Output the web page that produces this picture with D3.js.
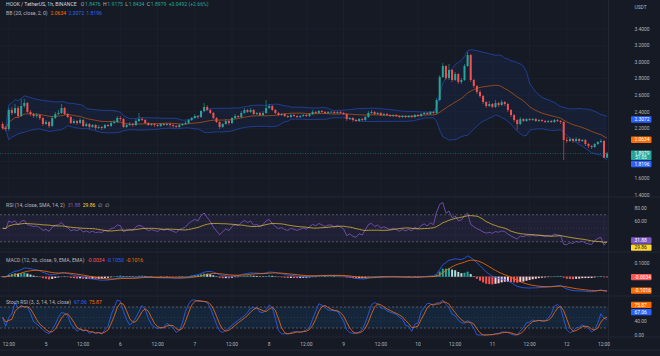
<!DOCTYPE html>
<html><head><meta charset="utf-8">
<script src="https://cdn.jsdelivr.net/npm/d3@7"></script>
<style>html,body{margin:0;padding:0;background:#161a25;overflow:hidden}text{font-family:Roboto,"Liberation Sans",sans-serif}</style>
</head><body><svg id="c" width="660" height="356"></svg>
<script>
// ---------- DATA (1h candles HOOK/USDT) ----------
const firstOpen = 2.253;
const startHour = -14; // first candle, hours relative to day 5 00:00
const closes = [2.205,2.193,2.422,2.386,2.446,2.349,2.470,2.506,2.398,2.373,
2.349,2.361,2.325,2.253,2.277,2.229,2.325,2.373,2.386,2.446,
2.373,2.337,2.265,2.289,2.265,2.301,2.229,2.253,2.217,2.241,
2.205,2.217,2.205,2.241,2.229,2.265,2.277,2.325,2.313,2.217,
2.241,2.253,2.241,2.289,2.313,2.301,2.265,2.241,2.253,2.241,
2.229,2.253,2.241,2.253,2.241,2.229,2.217,2.241,2.253,2.265,
2.301,2.325,2.349,2.337,2.410,2.458,2.422,2.386,2.325,2.277,
2.217,2.253,2.289,2.265,2.325,2.349,2.337,2.386,2.422,2.398,
2.422,2.373,2.386,2.361,2.386,2.446,2.470,2.422,2.386,2.361,
2.373,2.349,2.337,2.361,2.349,2.337,2.349,2.361,2.349,2.373,
2.398,2.386,2.410,2.398,2.386,2.398,2.399,2.386,2.398,2.386,
2.373,2.313,2.325,2.301,2.289,2.313,2.301,2.337,2.386,2.398,
2.373,2.386,2.361,2.373,2.361,2.349,2.361,2.349,2.337,2.349,
2.337,2.349,2.337,2.361,2.349,2.373,2.386,2.373,2.398,2.386,
2.542,2.819,2.952,2.807,2.904,2.783,2.855,2.759,2.783,2.952,
3.084,2.783,2.711,2.639,2.590,2.518,2.470,2.494,2.458,2.506,
2.482,2.518,2.494,2.422,2.361,2.301,2.253,2.313,2.289,2.313,
2.301,2.313,2.289,2.301,2.289,2.277,2.289,2.277,2.301,2.289,
2.277,2.060,2.048,2.072,2.048,2.072,2.048,2.060,2.012,1.988,
1.976,2.012,2.036,2.048,1.8476,1.8979];
const highs = [2.277,2.229,2.446,2.458,2.494,2.470,2.554,2.554,2.518,2.422,
2.386,2.386,2.373,2.337,2.301,2.289,2.349,2.398,2.422,2.494,
2.458,2.386,2.349,2.313,2.301,2.325,2.313,2.277,2.265,2.253,
2.253,2.241,2.229,2.253,2.253,2.289,2.301,2.349,2.349,2.325,
2.253,2.277,2.265,2.313,2.386,2.337,2.313,2.277,2.265,2.265,
2.253,2.265,2.265,2.265,2.265,2.253,2.241,2.253,2.265,2.289,
2.313,2.337,2.373,2.361,2.422,2.506,2.482,2.434,2.398,2.337,
2.289,2.265,2.313,2.301,2.337,2.373,2.361,2.410,2.446,2.434,
2.446,2.434,2.398,2.398,2.410,2.542,2.494,2.482,2.434,2.398,
2.386,2.386,2.361,2.373,2.373,2.361,2.361,2.373,2.373,2.386,
2.422,2.410,2.422,2.422,2.410,2.410,2.410,2.410,2.410,2.410,
2.398,2.386,2.337,2.337,2.313,2.325,2.325,2.349,2.410,2.422,
2.410,2.398,2.398,2.386,2.386,2.373,2.373,2.373,2.361,2.361,
2.361,2.361,2.361,2.373,2.373,2.386,2.398,2.398,2.410,2.410,
2.566,2.843,2.988,2.964,2.976,2.916,2.880,2.867,2.807,2.976,
3.120,3.096,2.795,2.723,2.663,2.602,2.530,2.530,2.506,2.542,
2.518,2.542,2.530,2.506,2.434,2.373,2.313,2.337,2.325,2.325,
2.325,2.325,2.325,2.313,2.313,2.301,2.301,2.301,2.313,2.313,
2.301,2.289,2.096,2.096,2.084,2.096,2.084,2.072,2.072,2.024,
2.000,2.024,2.048,2.072,2.060,1.9175];
const lows = [2.181,2.169,2.169,2.361,2.373,2.325,2.337,2.446,2.386,2.349,
2.325,2.325,2.301,2.229,2.241,2.205,2.217,2.313,2.361,2.373,
2.361,2.325,2.253,2.253,2.241,2.253,2.217,2.217,2.193,2.205,
2.181,2.193,2.181,2.193,2.217,2.217,2.253,2.265,2.289,2.205,
2.205,2.229,2.217,2.229,2.277,2.289,2.253,2.229,2.229,2.217,
2.217,2.217,2.229,2.229,2.217,2.205,2.205,2.205,2.229,2.241,
2.253,2.289,2.313,2.313,2.325,2.398,2.410,2.373,2.313,2.265,
2.193,2.205,2.241,2.241,2.253,2.313,2.325,2.325,2.373,2.386,
2.386,2.361,2.361,2.349,2.349,2.373,2.434,2.410,2.373,2.349,
2.349,2.337,2.325,2.325,2.337,2.325,2.325,2.337,2.337,2.337,
2.361,2.373,2.373,2.386,2.373,2.373,2.386,2.373,2.373,2.373,
2.361,2.289,2.301,2.277,2.277,2.277,2.289,2.289,2.325,2.373,
2.361,2.361,2.349,2.349,2.349,2.337,2.337,2.337,2.325,2.325,
2.325,2.325,2.325,2.325,2.337,2.337,2.361,2.361,2.361,2.373,
2.373,2.530,2.807,2.783,2.783,2.759,2.771,2.735,2.735,2.771,
2.940,2.759,2.687,2.614,2.566,2.494,2.446,2.458,2.446,2.446,
2.458,2.470,2.470,2.398,2.337,2.277,2.181,2.241,2.277,2.277,
2.289,2.289,2.277,2.277,2.277,2.265,2.265,2.265,2.265,2.277,
2.253,1.819,2.024,2.036,2.024,2.036,2.024,2.036,1.988,1.964,
1.952,1.964,2.000,2.024,1.843,1.8434];

const tickHours  = [-12,0,12,24,36,48,60,72,84,96,108,120,132,144,156,168,180];
const tickLabels = ["12:00","5","12:00","6","12:00","7","12:00","8","12:00","9","12:00","10","12:00","11","12:00","12","12:00"];
const priceTicks = [1.4,1.6,1.8,2.0,2.2,2.4,2.6,2.8,3.0,3.2,3.4];
const rsiTicks = [20,40,60,80];
const macdTicks = [-0.1,0,0.1];
const stochTicks = [0,40,80];

// legend values shown in the reference
const titleText = "HOOK / TetherUS, 1h, BINANCE";
const ohlcText = {O:"1.8476",H:"1.9175",L:"1.8434",C:"1.8979",chg:"+0.0492 (+2.66%)"};
const bbVals = {basis:2.0634, upper:2.3072, lower:1.8196};
const rsiVals = {rsi:31.88, ma:29.86};
const macdVals = {hist:-0.0034, macd:-0.1050, signal:-0.1016};
const stochVals = {k:67.06, d:75.87};
const countdown = "51:05";

// ---------- INDICATORS ----------
const n = closes.length;
const opens = closes.map((c,i)=> i===0 ? firstOpen : closes[i-1]);
const hours = closes.map((_,i)=> startHour + i);

function sma(arr, len){
  return arr.map((_,i)=>{
    const w = arr.slice(Math.max(0,i-len+1), i+1).filter(v=>v!=null);
    return w.length ? d3.mean(w) : null;
  });
}
function stdev(arr, len){
  return arr.map((_,i)=>{
    const w = arr.slice(Math.max(0,i-len+1), i+1);
    const m = d3.mean(w);
    return Math.sqrt(d3.mean(w.map(v=>(v-m)*(v-m))));
  });
}
function ema(arr, len){
  const a = 2/(len+1); let prev = null;
  return arr.map(v=>{ prev = prev==null ? v : prev + a*(v-prev); return prev; });
}
const basis = sma(closes,20), sd = stdev(closes,20);
const upper = basis.map((b,i)=>b+2*sd[i]), lower = basis.map((b,i)=>b-2*sd[i]);

// RSI (Wilder), neutral warm-up seed
const ch = closes.map((c,i)=> i===0?0:c-closes[i-1]);
const seed = d3.mean(ch.slice(1,15).map(Math.abs))/2;
let ag = seed, al = seed;
const rsi = closes.map((c,i)=>{
  if(i===0) return 50;
  ag = (ag*13 + Math.max(ch[i],0))/14;
  al = (al*13 + Math.max(-ch[i],0))/14;
  return al===0 ? 100 : 100 - 100/(1+ag/al);
});
const rsiMA = sma(rsi,14);

const macd = ema(closes,12).map((v,i)=> v - ema(closes,26)[i]);
const signal = ema(macd,9);
const hist = macd.map((v,i)=> v - signal[i]);

const stochRaw = rsi.map((v,i)=>{
  const w = rsi.slice(Math.max(0,i-13), i+1);
  const lo = d3.min(w), hi = d3.max(w);
  return hi===lo ? 50 : (v-lo)/(hi-lo)*100;
});
const K = sma(stochRaw,3), D = sma(K,3);

// ---------- LAYOUT / SCALES ----------
const W = 608;
const P = {main:[0,197], rsi:[197,252], macd:[252,296], stoch:[296,337]};
const X = d3.scaleLinear().domain([0,180]).range([46,604]);
const yMain = d3.scaleLinear().domain([2.0,3.4]).range([145,28.8]);
const yRsi = d3.scaleLinear().domain([40,80]).range([235,208]);
const yMacd = d3.scaleLinear().domain([0,0.1]).range([276.7,263]);
const yStoch = d3.scaleLinear().domain([0,80]).range([335,307]);

const C = {up:"#26a69a", dn:"#ef5350", blue:"#2962ff", orange:"#ff6d00", purple:"#7e57c2",
  yellow:"#fdd835", grid:"#1e2230", text:"#b2b5be", sep:"#2a2e39", bg:"#161a25"};

const svg = d3.select("#c");
svg.append("rect").attr("width",660).attr("height",356).attr("fill",C.bg);
const defs = svg.append("defs");
Object.entries(P).forEach(([k,[a,b]])=>{
  defs.append("clipPath").attr("id","clip-"+k).append("rect").attr("x",0).attr("y",a).attr("width",W).attr("height",b-a);
});
const pane = k => svg.append("g").attr("clip-path",`url(#clip-${k})`);

// grid
const grid = svg.append("g");
grid.selectAll("line.v").data(tickHours).join("line")
  .attr("x1",d=>X(d)).attr("x2",d=>X(d)).attr("y1",0).attr("y2",337)
  .attr("stroke",C.grid).attr("stroke-width",0.7);
const hgrid = (ticks, sc) => grid.selectAll(null).data(ticks).join("line")
  .attr("x1",0).attr("x2",W).attr("y1",d=>sc(d)).attr("y2",d=>sc(d))
  .attr("stroke",C.grid).attr("stroke-width",0.7);
hgrid(priceTicks,yMain); hgrid(rsiTicks,yRsi); hgrid(macdTicks,yMacd); hgrid(stochTicks,yStoch);

// ---------- MAIN PANE ----------
const gm = pane("main");
const lineGen = (sc, arr) => d3.line().defined(i=>arr[i]!=null).x(i=>X(hours[i])).y(i=>sc(arr[i]))(d3.range(n));
gm.append("path").attr("d", d3.area().x(i=>X(hours[i])).y0(i=>yMain(lower[i])).y1(i=>yMain(upper[i]))(d3.range(n)))
  .attr("fill","rgba(41,98,255,0.07)");
gm.append("path").attr("d",lineGen(yMain,upper)).attr("fill","none").attr("stroke",C.blue).attr("stroke-opacity",0.6).attr("stroke-width",0.8);
gm.append("path").attr("d",lineGen(yMain,lower)).attr("fill","none").attr("stroke",C.blue).attr("stroke-opacity",0.6).attr("stroke-width",0.8);
gm.append("path").attr("d",lineGen(yMain,basis)).attr("fill","none").attr("stroke",C.orange).attr("stroke-opacity",0.75).attr("stroke-width",0.7);

const col = i => closes[i] >= opens[i] ? C.up : C.dn;
gm.selectAll("line.wick").data(d3.range(n)).join("line")
  .attr("x1",i=>X(hours[i])).attr("x2",i=>X(hours[i]))
  .attr("y1",i=>yMain(Math.max(highs[i],opens[i],closes[i])))
  .attr("y2",i=>yMain(Math.min(lows[i],opens[i],closes[i])))
  .attr("stroke",col).attr("stroke-width",0.6);
gm.selectAll("rect.body").data(d3.range(n)).join("rect")
  .attr("x",i=>X(hours[i])-1).attr("width",2)
  .attr("y",i=>yMain(Math.max(opens[i],closes[i])))
  .attr("height",i=>Math.max(0.6, Math.abs(yMain(opens[i])-yMain(closes[i]))))
  .attr("fill",col);
// last price line
gm.append("line").attr("x1",0).attr("x2",W).attr("y1",yMain(closes[n-1])).attr("y2",yMain(closes[n-1]))
  .attr("stroke",C.up).attr("stroke-width",0.6).attr("stroke-dasharray","1,1.5").attr("stroke-opacity",0.8);

// ---------- RSI PANE ----------
const gr = pane("rsi");
gr.append("rect").attr("x",0).attr("width",W).attr("y",yRsi(70)).attr("height",yRsi(30)-yRsi(70)).attr("fill","rgba(126,87,194,0.1)");
[70,30].forEach(v=>gr.append("line").attr("x1",0).attr("x2",W).attr("y1",yRsi(v)).attr("y2",yRsi(v)).attr("stroke","#787b86").attr("stroke-width",0.6).attr("stroke-dasharray","2,2"));
gr.append("line").attr("x1",0).attr("x2",W).attr("y1",yRsi(50)).attr("y2",yRsi(50)).attr("stroke","#787b86").attr("stroke-opacity",0.4).attr("stroke-width",0.6).attr("stroke-dasharray","1,2");
gr.append("path").attr("d",lineGen(yRsi,rsi)).attr("fill","none").attr("stroke",C.purple).attr("stroke-width",0.8);
gr.append("path").attr("d",lineGen(yRsi,rsiMA)).attr("fill","none").attr("stroke",C.yellow).attr("stroke-opacity",0.8).attr("stroke-width",0.8);

// ---------- MACD PANE ----------
const gc = pane("macd");
gc.append("line").attr("x1",0).attr("x2",W).attr("y1",yMacd(0)).attr("y2",yMacd(0)).attr("stroke","#787b86").attr("stroke-opacity",0.5).attr("stroke-width",0.6);
const hcol = i => {
  const rising = i>0 && hist[i] > hist[i-1];
  return hist[i] >= 0 ? (rising ? "#26a69a" : "#b2dfdb") : (rising ? "#ffcdd2" : "#ff5252");
};
gc.selectAll("rect").data(d3.range(n)).join("rect")
  .attr("x",i=>X(hours[i])-1).attr("width",2)
  .attr("y",i=>Math.min(yMacd(0),yMacd(hist[i])))
  .attr("height",i=>Math.max(0.4,Math.abs(yMacd(hist[i])-yMacd(0))))
  .attr("fill",hcol);
gc.append("path").attr("d",lineGen(yMacd,macd)).attr("fill","none").attr("stroke",C.blue).attr("stroke-width",0.8);
gc.append("path").attr("d",lineGen(yMacd,signal)).attr("fill","none").attr("stroke",C.orange).attr("stroke-width",0.8);

// ---------- STOCH RSI PANE ----------
const gs = pane("stoch");
gs.append("rect").attr("x",0).attr("width",W).attr("y",yStoch(80)).attr("height",yStoch(20)-yStoch(80)).attr("fill","rgba(33,150,243,0.1)");
[80,20].forEach(v=>gs.append("line").attr("x1",0).attr("x2",W).attr("y1",yStoch(v)).attr("y2",yStoch(v)).attr("stroke","#787b86").attr("stroke-width",0.6).attr("stroke-dasharray","2,2"));
gs.append("line").attr("x1",0).attr("x2",W).attr("y1",yStoch(50)).attr("y2",yStoch(50)).attr("stroke","#787b86").attr("stroke-opacity",0.4).attr("stroke-width",0.6).attr("stroke-dasharray","1,2");
gs.append("path").attr("d",lineGen(yStoch,K)).attr("fill","none").attr("stroke",C.blue).attr("stroke-width",0.8);
gs.append("path").attr("d",lineGen(yStoch,D)).attr("fill","none").attr("stroke",C.orange).attr("stroke-width",0.8);

// ---------- SEPARATORS ----------
[197,252,296,337,350].forEach(y=>svg.append("line").attr("x1",0).attr("x2",660).attr("y1",y).attr("y2",y).attr("stroke",C.sep).attr("stroke-width",0.7));
svg.append("line").attr("x1",W+0.5).attr("x2",W+0.5).attr("y1",0).attr("y2",350).attr("stroke",C.sep).attr("stroke-width",0.7);

// ---------- LEGENDS ----------
function legend(y, parts){
  const t = svg.append("text").attr("x",6).attr("y",y).attr("font-size",5.1);
  parts.forEach((p,k)=> t.append("tspan").attr("dx",k===0?0:(p.gap??2.2)).attr("fill",p.c||C.text).text(p.t));
}
legend(6.4,[{t:titleText,c:"#d1d4dc"},
  {t:"O",gap:4},{t:ohlcText.O,c:C.up,gap:0.8},{t:"H",gap:2.2},{t:ohlcText.H,c:C.up,gap:0.8},
  {t:"L",gap:2.2},{t:ohlcText.L,c:C.up,gap:0.8},{t:"C",gap:2.2},{t:ohlcText.C,c:C.up,gap:0.8},{t:ohlcText.chg,c:C.up}]);
legend(15.4,[{t:"BB (20, close, 2, 0)"},{t:bbVals.basis.toFixed(4),c:C.orange,gap:3},{t:bbVals.upper.toFixed(4),c:C.blue},{t:bbVals.lower.toFixed(4),c:C.blue}]);
legend(206.5,[{t:"RSI (14, close, SMA, 14, 2)"},{t:rsiVals.rsi.toFixed(2),c:C.purple,gap:3},{t:rsiVals.ma.toFixed(2),c:C.yellow},{t:"∅",gap:3},{t:"∅"}]);
legend(261.5,[{t:"MACD (12, 26, close, 9, EMA, EMA)"},{t:macdVals.hist.toFixed(4),c:"#ff5252",gap:3},{t:macdVals.macd.toFixed(4),c:C.blue},{t:macdVals.signal.toFixed(4),c:C.orange}]);
legend(303.5,[{t:"Stoch RSI (3, 3, 14, 14, close)"},{t:stochVals.k.toFixed(2),c:C.blue,gap:3},{t:stochVals.d.toFixed(2),c:C.orange}]);

// ---------- PRICE SCALES ----------
const ax = svg.append("g");
ax.append("text").attr("x",634.5).attr("y",8.6).attr("font-size",4.9).attr("fill",C.text).text("USDT");

function resolve(tags){
  tags.sort((a,b)=>a.y-b.y);
  for(let k=1;k<tags.length;k++){
    const p = tags[k-1], q = tags[k];
    const minD = p.h/2 + q.h/2 + 0.8;
    if(q.y - p.y < minD) q.y = p.y + minD;
  }
  return tags;
}
function scaleLabels(ticks, sc, fmt, tags, top, bottom){
  ticks.forEach(v=>{
    const y = sc(v);
    if(y < top+3 || y > bottom-2) return;
    if(tags.some(t=>Math.abs(t.y-y) < t.h/2+2.5)) return;
    ax.append("text").attr("x",634.5).attr("y",y+1.75).attr("font-size",4.9).attr("fill",C.text).text(fmt(v));
  });
  tags.forEach(t=>{
    ax.append("rect").attr("x",631).attr("y",t.y-t.h/2).attr("width",20.5).attr("height",t.h).attr("rx",0.8).attr("fill",t.c);
    ax.append("text").attr("x",634.5).attr("y",t.y-t.h/2+4.9).attr("font-size",4.9).attr("fill",t.tc||"#ffffff").text(t.t);
    if(t.t2) ax.append("text").attr("x",635.2).attr("y",t.y-t.h/2+8.9).attr("font-size",4.6).attr("fill",t.tc||"#ffffff").text(t.t2);
  });
}
const mainTags = resolve([
  {y:yMain(bbVals.upper),h:6.3,c:C.blue,t:bbVals.upper.toFixed(4)},
  {y:yMain(bbVals.basis),h:6.3,c:C.orange,t:bbVals.basis.toFixed(4)},
  {y:yMain(closes[n-1])+1.8,h:9.6,c:C.up,t:closes[n-1].toFixed(4),t2:countdown},
  {y:yMain(bbVals.lower),h:6.3,c:C.blue,t:bbVals.lower.toFixed(4)}
]);
scaleLabels(priceTicks,yMain,v=>v.toFixed(4),mainTags,P.main[0],P.main[1]);
scaleLabels(rsiTicks,yRsi,v=>v.toFixed(2),resolve([
  {y:yRsi(rsiVals.rsi),h:6.3,c:C.purple,t:rsiVals.rsi.toFixed(2)},
  {y:yRsi(rsiVals.ma),h:6.3,c:C.yellow,tc:"#131722",t:rsiVals.ma.toFixed(2)}
]),P.rsi[0],P.rsi[1]);
scaleLabels(macdTicks,yMacd,v=>v.toFixed(4),resolve([
  {y:yMacd(macdVals.hist),h:6.3,c:"#ff5252",t:macdVals.hist.toFixed(4)},
  {y:yMacd(macdVals.signal),h:6.3,c:C.orange,t:macdVals.signal.toFixed(4)}
]),P.macd[0],P.macd[1]);
scaleLabels(stochTicks,yStoch,v=>v.toFixed(2),resolve([
  {y:yStoch(stochVals.d)-3.5,h:6.3,c:C.orange,t:stochVals.d.toFixed(2)},
  {y:yStoch(stochVals.k),h:6.3,c:C.blue,t:stochVals.k.toFixed(2)}
]),P.stoch[0],P.stoch[1]);

// ---------- TIME AXIS ----------
svg.append("g").selectAll("text").data(tickHours).join("text")
  .attr("x",d=>X(d)).attr("y",345.8).attr("text-anchor","middle").attr("font-size",4.9).attr("fill",C.text)
  .text((d,i)=>tickLabels[i]);
</script></body></html>
